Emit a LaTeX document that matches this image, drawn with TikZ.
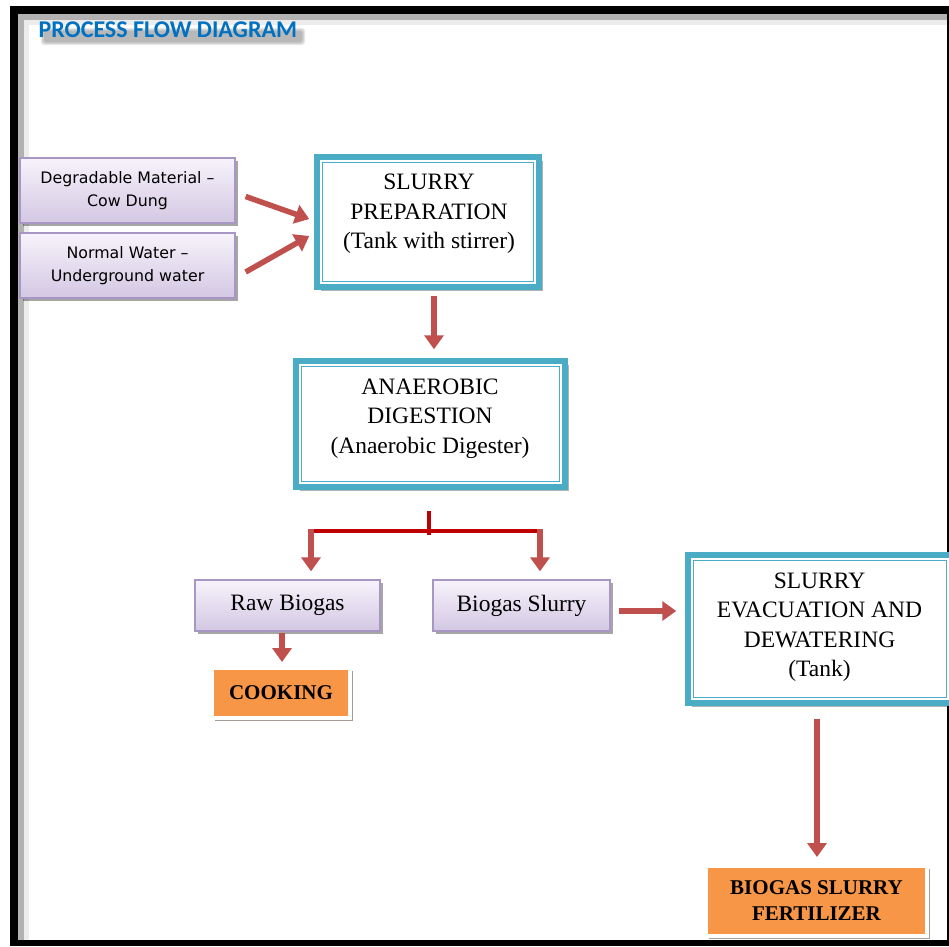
\documentclass[tikz,border=0pt]{standalone}
\usepackage{fontspec}
\setmainfont{Liberation Serif}
\newfontfamily\tahfont{DejaVu Sans}
\newfontfamily\calfont{Carlito}
\usetikzlibrary{shadows,calc,arrows.meta}
\definecolor{tealc}{HTML}{4BACC6}
\definecolor{arrred}{HTML}{C0504D}
\definecolor{darkred}{HTML}{C00000}
\definecolor{orangec}{HTML}{F79646}
\definecolor{lavtop}{HTML}{F7F3FB}
\definecolor{lavbot}{HTML}{D3C7E3}
\definecolor{lavborder}{HTML}{A897C4}
\definecolor{titleblue}{HTML}{0070C0}
\begin{document}
\begin{tikzpicture}[x=1pt,y=-1pt,
  inbox/.style={rectangle, draw=lavborder, line width=1.3pt, top color=lavtop, bottom color=lavbot,
    drop shadow={shadow xshift=3pt, shadow yshift=-3pt, fill=black, opacity=0.35},
    align=center, inner sep=0pt},
  sansfont/.style={font=\tahfont\fontsize{15.8}{23}\selectfont},
  serfont/.style={font=\fontsize{23.5}{29.5}\selectfont},
  tealbox/.style={rectangle, draw=tealc, line width=5.5pt, fill=white,
    drop shadow={shadow xshift=4pt, shadow yshift=-4pt, fill=black, opacity=0.3},
    inner sep=0pt},
  innerline/.style={draw=tealc, line width=1.1pt},
  boxtext/.style={align=center, inner sep=0pt, serfont},
  outbox/.style={rectangle, draw=white, line width=4pt, fill=orangec,
    drop shadow={shadow xshift=3pt, shadow yshift=-3pt, fill=black!70!brown, opacity=0.45},
    align=center, inner sep=0pt, font=\bfseries\fontsize{21}{26}\selectfont},
  flow/.style={draw=arrred, line width=5.5pt, -{Triangle[width=19pt,length=14pt]}},
  tree/.style={draw=darkred, line width=4.5pt}
]
\useasboundingbox (0,0) rectangle (949,946);
\fill[white] (0,0) rectangle (949,946);
% frame
\fill[gray!60] (18,14) rectangle (947,20);
\fill[gray!60] (18,14) rectangle (24,940);
\fill[gray!15] (24,20) rectangle (947,25);
\fill[gray!15] (24,20) rectangle (29,940);
\fill[black] (10,6) rectangle (949,14);
\fill[black] (10,6) rectangle (18,946);
\fill[black] (10,940) rectangle (949,946);
\fill[black] (946.5,6) rectangle (949,946);
% title with soft shadow
\foreach \d in {0,1,2,3} {
  \fill[gray, opacity=0.18, rounded corners=3pt] (44-\d,31-\d) rectangle (302+\d,42+\d);
}
\node[anchor=west, text=titleblue, font=\calfont\bfseries\fontsize{24}{26}\selectfont] (title) at (35,30) {PROCESS FLOW DIAGRAM};

% input boxes
\node[inbox, sansfont, minimum width=215pt, minimum height=65pt] (deg) at (127.5,190.5) {Degradable Material –\\Cow Dung};
\node[inbox, sansfont, minimum width=215pt, minimum height=65pt] (norm) at (127.5,265.5) {Normal Water –\\Underground water};

% teal boxes
\node[tealbox, minimum width=222pt, minimum height=130pt] (prep) at (428,222) {};
\draw[innerline] ($(prep.north west)+(8.4,8.4)$) rectangle ($(prep.south east)+(-8.4,-8.4)$);
\node[boxtext] (preptext) at (429,214) {SLURRY\\PREPARATION\\(Tank with stirrer)};

\node[tealbox, minimum width=269pt, minimum height=126pt] (ana) at (430.5,424) {};
\draw[innerline] ($(ana.north west)+(8.4,8.4)$) rectangle ($(ana.south east)+(-8.4,-8.4)$);
\node[boxtext] (anatext) at (430,418.5) {ANAEROBIC\\DIGESTION\\(Anaerobic Digester)};

\node[tealbox, minimum width=264pt, minimum height=148pt] (evac) at (820,629) {};
\draw[innerline] ($(evac.north west)+(8.4,8.4)$) rectangle ($(evac.south east)+(-8.4,-8.4)$);
\node[boxtext] (evactext) at (819.5,627) {SLURRY\\EVACUATION AND\\DEWATERING\\(Tank)};

% product boxes
\node[inbox, serfont, minimum width=185pt, minimum height=51pt] (raw) at (287.5,605.5) {Raw Biogas};
\node[inbox, serfont, minimum width=177pt, minimum height=51pt] (bs) at (521.5,605.5) {Biogas Slurry};

\node[outbox, minimum width=138pt, minimum height=50pt] (cook) at (281,693) {COOKING};
\node[outbox, minimum width=221pt, minimum height=70pt] (fert) at (816.5,901) {BIOGAS SLURRY\\FERTILIZER};

% arrows
\draw[flow] ($(deg.east)+(10,6)$) -- ($(prep.west)+(-5,-3)$);
\draw[flow] ($(norm.east)+(10,6.5)$) -- ($(prep.west)+(-5,14)$);
\draw[flow] ($(prep.south)+(6,6)$) -- ($(ana.north)+(3.5,-9)$);

\coordinate (split) at ($(ana.south)+(-1.5,45)$);
\coordinate (splitl) at ($(raw.north)+(23.5,-48.5)$);
\coordinate (splitr) at ($(bs.north)+(18.5,-48.5)$);
\draw[tree] ($(ana.south)+(-1.5,21)$) -- (split);
\draw[tree] ($(splitl)+(-2.25,0)$) -- ($(splitr)+(2.25,0)$);
\draw[flow] ($(splitl)+(0,-2)$) -- ($(raw.north)+(23.5,-8)$);
\draw[flow] ($(splitr)+(0,-2)$) -- ($(bs.north)+(18.5,-8)$);

\draw[flow] ($(raw.south)+(-5.5,1)$) -- ($(cook.north)+(1,-4)$);
\draw[flow] ($(bs.east)+(8,5.5)$) -- ($(evac.west)+(-9,-18)$);
\draw[flow] ($(evac.south)+(-3,13)$) -- ($(fert.north)+(0.5,-7)$);
\end{tikzpicture}
\end{document}
